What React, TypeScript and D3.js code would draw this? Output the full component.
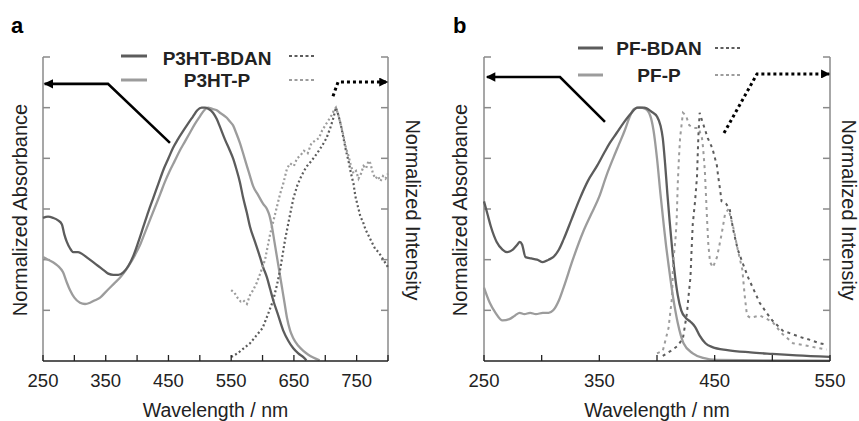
import React from "react";
import * as d3 from "d3";

// ---------- DATA ----------
// Panel a: P3HT (wavelength nm, normalized value)
const p3htBdanAbs: [number, number][] = [
  [250, 0.565], [258, 0.57], [266, 0.565], [274, 0.555], [280, 0.54], [284, 0.5], [288, 0.47], [293, 0.445],
  [298, 0.43], [306, 0.43], [314, 0.42], [322, 0.405], [330, 0.39], [338, 0.375], [346, 0.36], [354, 0.345],
  [362, 0.34], [370, 0.34], [378, 0.35], [386, 0.375], [394, 0.415], [402, 0.47], [410, 0.53], [418, 0.59],
  [426, 0.645], [434, 0.7], [442, 0.755], [450, 0.8], [457, 0.84], [465, 0.875], [474, 0.91], [482, 0.94],
  [489, 0.965], [496, 0.99], [503, 1.0], [508, 1.0], [514, 0.995], [521, 0.98], [527, 0.955], [532, 0.925],
  [540, 0.875], [548, 0.83], [553, 0.8], [558, 0.76], [564, 0.705], [569, 0.645], [575, 0.585], [580, 0.53],
  [588, 0.47], [596, 0.41], [601, 0.37], [607, 0.33], [612, 0.285], [617, 0.24], [625, 0.18], [633, 0.12],
  [641, 0.08], [649, 0.05], [657, 0.03], [665, 0.015], [670, 0.003]
];
const p3htPAbs: [number, number][] = [
  [250, 0.41], [258, 0.4], [266, 0.39], [274, 0.375], [282, 0.35], [288, 0.31], [293, 0.28], [300, 0.25],
  [309, 0.23], [317, 0.225], [325, 0.23], [333, 0.24], [341, 0.25], [349, 0.27], [357, 0.29], [365, 0.31],
  [373, 0.33], [381, 0.355], [389, 0.385], [397, 0.42], [405, 0.46], [413, 0.51], [421, 0.56], [429, 0.61],
  [437, 0.66], [444, 0.705], [452, 0.75], [460, 0.79], [468, 0.83], [476, 0.865], [484, 0.9], [492, 0.935],
  [500, 0.965], [507, 0.99], [513, 1.0], [520, 0.995], [527, 0.99], [532, 0.98], [538, 0.97], [543, 0.96],
  [548, 0.945], [553, 0.93], [558, 0.9], [564, 0.86], [569, 0.82], [575, 0.77], [580, 0.73], [585, 0.69],
  [593, 0.655], [601, 0.62], [607, 0.6], [611, 0.575], [615, 0.53], [619, 0.47], [623, 0.41], [627, 0.35],
  [631, 0.29], [635, 0.23], [639, 0.17], [644, 0.12], [649, 0.09], [657, 0.06], [665, 0.04], [673, 0.025],
  [680, 0.015], [691, 0.003]
];
const p3htBdanEm: [number, number][] = [
  [550, 0.016], [560, 0.03], [570, 0.05], [580, 0.07], [590, 0.1], [600, 0.13], [608, 0.18], [617, 0.24],
  [623, 0.3], [628, 0.36], [632, 0.42], [636, 0.48], [640, 0.53], [644, 0.58], [649, 0.64], [655, 0.69],
  [660, 0.72], [666, 0.75], [671, 0.77], [678, 0.79], [687, 0.82], [695, 0.85], [702, 0.88], [708, 0.92],
  [713, 0.96], [717, 1.0], [721, 0.97], [725, 0.93], [729, 0.88], [733, 0.83], [737, 0.79], [741, 0.74],
  [745, 0.7], [748, 0.65], [752, 0.61], [756, 0.57], [760, 0.55], [764, 0.52], [768, 0.5], [772, 0.48],
  [776, 0.46], [780, 0.44], [785, 0.43], [790, 0.41], [795, 0.39], [800, 0.37]
];
const p3htPEm: [number, number][] = [
  [550, 0.28], [555, 0.27], [560, 0.25], [565, 0.235], [569, 0.24], [575, 0.225], [580, 0.26], [585, 0.28],
  [591, 0.31], [597, 0.35], [604, 0.4], [608, 0.45], [612, 0.5], [617, 0.55], [622, 0.6], [628, 0.66],
  [633, 0.7], [639, 0.76], [644, 0.78], [650, 0.77], [655, 0.8], [660, 0.81], [666, 0.83], [672, 0.82],
  [678, 0.86], [684, 0.87], [690, 0.88], [695, 0.91], [700, 0.93], [705, 0.95], [710, 0.97], [714, 0.99],
  [717, 1.0], [721, 0.97], [725, 0.93], [729, 0.89], [733, 0.84], [737, 0.81], [741, 0.77], [745, 0.74],
  [749, 0.75], [753, 0.72], [757, 0.74], [761, 0.77], [765, 0.76], [769, 0.79], [772, 0.78], [776, 0.74],
  [780, 0.72], [784, 0.73], [788, 0.71], [792, 0.73], [796, 0.72], [800, 0.74]
];

// Panel b: PF
const pfBdanAbs: [number, number][] = [
  [250, 0.63], [253, 0.58], [256, 0.53], [261, 0.47], [266, 0.44], [270, 0.43], [275, 0.44], [279, 0.46],
  [281, 0.47], [283, 0.46], [286, 0.41], [291, 0.405], [296, 0.4], [301, 0.39], [306, 0.4], [310, 0.41],
  [315, 0.44], [319, 0.48], [326, 0.56], [333, 0.64], [340, 0.71], [348, 0.77], [354, 0.82], [359, 0.86],
  [365, 0.9], [371, 0.94], [377, 0.975], [383, 1.0], [389, 1.0], [395, 0.985], [400, 0.965], [403, 0.93],
  [405, 0.88], [407, 0.78], [409, 0.66], [411, 0.55], [413, 0.45], [415, 0.36], [418, 0.26], [421, 0.2],
  [425, 0.17], [429, 0.155], [433, 0.135], [437, 0.1], [442, 0.07], [448, 0.055], [461, 0.043], [481, 0.034],
  [500, 0.028], [521, 0.022], [550, 0.016]
];
const pfPAbs: [number, number][] = [
  [250, 0.29], [255, 0.23], [260, 0.19], [266, 0.16], [272, 0.165], [277, 0.18], [281, 0.19], [285, 0.185],
  [290, 0.19], [295, 0.185], [301, 0.19], [306, 0.19], [310, 0.2], [315, 0.24], [319, 0.29], [327, 0.4],
  [336, 0.51], [343, 0.58], [350, 0.65], [356, 0.73], [362, 0.8], [367, 0.855], [372, 0.91], [376, 0.96],
  [380, 0.995], [385, 1.0], [390, 0.995], [394, 0.97], [397, 0.91], [400, 0.8], [403, 0.66], [406, 0.53],
  [408, 0.45], [410, 0.38], [414, 0.25], [418, 0.15], [423, 0.07], [431, 0.03], [440, 0.012], [452, 0.004],
  [500, 0.002], [550, 0.001]
];
const pfBdanEm: [number, number][] = [
  [405, 0.02], [412, 0.04], [418, 0.06], [422.5, 0.09], [426, 0.19], [427, 0.24], [429, 0.33], [430, 0.44],
  [431, 0.54], [433, 0.63], [434.7, 0.73], [435.5, 0.84], [436, 0.9], [437, 0.98], [439, 0.95], [444, 0.88],
  [448, 0.84], [452, 0.77], [453, 0.73], [454.6, 0.68], [456, 0.63], [460, 0.62], [463, 0.6], [466, 0.52],
  [470, 0.44], [474, 0.39], [479, 0.33], [483, 0.29], [489, 0.23], [495, 0.19], [500, 0.16], [509, 0.12],
  [515, 0.11], [524, 0.095], [533, 0.083], [541, 0.07], [547, 0.065]
];
const pfPEm: [number, number][] = [
  [400, 0.03], [405, 0.04], [410, 0.13], [413, 0.25], [414, 0.39], [416, 0.48], [417, 0.55], [418, 0.7],
  [419, 0.8], [420, 0.88], [422.5, 0.98], [425, 0.97], [428, 0.93], [432, 0.92], [436, 0.92], [439, 0.88],
  [440, 0.84], [441.5, 0.75], [442.5, 0.65], [443.5, 0.55], [444.5, 0.46], [446, 0.39], [448.5, 0.37],
  [452, 0.41], [456, 0.5], [459, 0.58], [462, 0.6], [466, 0.53], [470, 0.44], [474, 0.36], [476, 0.26],
  [478, 0.18], [481, 0.17], [489, 0.18], [500, 0.155], [508, 0.11], [518, 0.07], [527, 0.063], [541, 0.05],
  [547, 0.045]
];

// Axis ticks / labels
const xTicksA = [250, 300, 350, 400, 450, 500, 550, 600, 650, 700, 750, 800];
const xLabelsA = [250, 350, 450, 550, 650, 750];
const xTicksB = [250, 300, 350, 400, 450, 500, 550];
const xLabelsB = [250, 350, 450, 550];
const yTicks = [0.2, 0.4, 0.6, 0.8, 1.0, 1.2];

// Annotation arrows (data coordinates)
const arrowAbsA: [number, number][] = [[353.6, 1.094], [452.4, 0.861]];
const arrowAbsATip: [number, number] = [252.5, 1.094];
const arrowEmA: [number, number][] = [[712.3, 1.045], [720.3, 1.101]];
const arrowEmATip: [number, number] = [799, 1.101];
const arrowAbsB: [number, number][] = [[315.9, 1.121], [354.9, 0.944]];
const arrowAbsBTip: [number, number] = [252.5, 1.121];
const arrowEmB: [number, number][] = [[458.1, 0.9], [486.7, 1.133]];
const arrowEmBTip: [number, number] = [549.3, 1.133];

const DARK = "#5c5c5c";
const LIGHT = "#9c9c9c";
const FONT = "'Liberation Sans', Arial, sans-serif";

const yScale = d3.scaleLinear().domain([0, 1.2]).range([361, 57]);

type PanelProps = {
  x0: number; x1: number; dom: [number, number];
  ticks: number[]; labels: number[];
  absDark: [number, number][]; absLight: [number, number][];
  emDark: [number, number][]; emLight: [number, number][];
  emDash: string; emWidth: number;
  letter: string; letterX: number;
  legendCenter: number; legendNames: [string, string];
  solidX: [number, number]; dotX: [number, number]; legendY: [number, number]; legendBase: [number, number];
  arrAbs: [number, number][]; arrAbsTip: [number, number];
  arrEm: [number, number][]; arrEmTip: [number, number];
  leftTitleX: number; rightTitleX: number;
  id: string;
};

function Panel(p: PanelProps) {
  const x = d3.scaleLinear().domain(p.dom).range([p.x0, p.x1]);
  const smooth = d3.line<[number, number]>().x(d => x(d[0])).y(d => yScale(d[1])).curve(d3.curveMonotoneX);
  const line = d3.line<[number, number]>().x(d => x(d[0])).y(d => yScale(d[1]));
  const y0 = yScale(0);
  const yTop = yScale(1.2);
  const yMid = (yTop + y0) / 2 + 1;
  const absPts = [...p.arrAbs].reverse().concat([p.arrAbsTip]) as [number, number][];
  const emPts = [...p.arrEm, p.arrEmTip] as [number, number][];
  return (
    <g>
      <defs>
        <marker id={`ah-${p.id}`} viewBox="0 0 10 10" refX="9" refY="5" markerWidth="4" markerHeight="3.6" orient="auto" markerUnits="strokeWidth">
          <path d="M0,0 L10,5 L0,10 z" fill="#000" />
        </marker>
        <marker id={`ahd-${p.id}`} viewBox="0 0 10 10" refX="9" refY="5" markerWidth="3.2" markerHeight="3" orient="auto" markerUnits="strokeWidth">
          <path d="M0,0 L10,5 L0,10 z" fill="#000" />
        </marker>
      </defs>
      <text x={p.letterX} y={33} fontFamily={FONT} fontWeight="bold" fontSize={22}>{p.letter}</text>
      <line x1={p.x0} x2={p.x0} y1={yTop} y2={y0} stroke="#8a8a8a" strokeWidth={1.5} />
      <line x1={p.x1} x2={p.x1} y1={yTop} y2={y0} stroke="#8a8a8a" strokeWidth={1.5} />
      {yTicks.map(t => (
        <g key={t}>
          <line x1={p.x0} x2={p.x0 + 7} y1={yScale(t)} y2={yScale(t)} stroke="#8a8a8a" strokeWidth={1.5} />
          <line x1={p.x1} x2={p.x1 - 7} y1={yScale(t)} y2={yScale(t)} stroke="#8a8a8a" strokeWidth={1.5} />
        </g>
      ))}
      <path d={smooth(p.absLight) || ""} fill="none" stroke={LIGHT} strokeWidth={2.3} strokeLinejoin="round" />
      <path d={smooth(p.absDark) || ""} fill="none" stroke={DARK} strokeWidth={2.3} strokeLinejoin="round" />
      <path d={line(p.emLight) || ""} fill="none" stroke={LIGHT} strokeWidth={p.emWidth} strokeDasharray={p.emDash} />
      <path d={line(p.emDark) || ""} fill="none" stroke={DARK} strokeWidth={p.emWidth} strokeDasharray={p.emDash} />
      <line x1={p.x0} x2={p.x1} y1={y0} y2={y0} stroke="#222" strokeWidth={1.6} />
      {p.ticks.map(t => (
        <line key={t} x1={x(t)} x2={x(t)} y1={y0} y2={y0 - 6} stroke="#222" strokeWidth={1.3} />
      ))}
      {p.labels.map(t => (
        <text key={t} x={x(t)} y={387} textAnchor="middle" fontFamily={FONT} fontSize={18.5} fill="#222">{t}</text>
      ))}
      <text x={(p.x0 + p.x1) / 2} y={417} textAnchor="middle" fontFamily={FONT} fontSize={19.5} fill="#222">Wavelength / nm</text>
      <text transform={`translate(${p.leftTitleX},${yMid}) rotate(-90)`} textAnchor="middle" dominantBaseline="central" fontFamily={FONT} fontSize={20} fill="#222">Normalized Absorbance</text>
      <text transform={`translate(${p.rightTitleX},${yMid}) rotate(90)`} textAnchor="middle" dominantBaseline="central" fontFamily={FONT} fontSize={20} fill="#222">Normalized Intensity</text>
      <polyline points={absPts.map(d => `${x(d[0])},${yScale(d[1])}`).join(" ")} fill="none" stroke="#000" strokeWidth={2.6} markerEnd={`url(#ah-${p.id})`} />
      <polyline points={emPts.map(d => `${x(d[0])},${yScale(d[1])}`).join(" ")} fill="none" stroke="#000" strokeWidth={3} strokeDasharray="3 3" markerEnd={`url(#ahd-${p.id})`} />
      {[0, 1].map(i => (
        <g key={i}>
          <line x1={p.solidX[0]} x2={p.solidX[1]} y1={p.legendY[i]} y2={p.legendY[i]} stroke={i === 0 ? DARK : LIGHT} strokeWidth={3} />
          <line x1={p.dotX[0]} x2={p.dotX[1]} y1={p.legendY[i]} y2={p.legendY[i]} stroke={i === 0 ? DARK : LIGHT} strokeWidth={2} strokeDasharray="3 2.5" />
          <text x={p.legendCenter} y={p.legendBase[i]} textAnchor="middle" fontFamily={FONT} fontWeight="bold" fontSize={19} fill="#222">{p.legendNames[i]}</text>
        </g>
      ))}
    </g>
  );
}

export default function App() {
  return (
    <svg width={859} height={421} style={{ position: "absolute", left: 0, top: 0, background: "#fff" }}>
      <rect width={859} height={421} fill="#fff" />
      <Panel id="a" x0={43} x1={388} dom={[250, 800]} ticks={xTicksA} labels={xLabelsA}
        absDark={p3htBdanAbs} absLight={p3htPAbs} emDark={p3htBdanEm} emLight={p3htPEm}
        emDash="2 2.5" emWidth={2.2}
        letter="a" letterX={11}
        legendCenter={217} legendNames={["P3HT-BDAN", "P3HT-P"]}
        solidX={[121, 147]} dotX={[289, 315]} legendY={[56, 80]} legendBase={[65, 87]}
        arrAbs={arrowAbsA} arrAbsTip={arrowAbsATip} arrEm={arrowEmA} arrEmTip={arrowEmATip}
        leftTitleX={20} rightTitleX={413} />
      <Panel id="b" x0={484} x1={830} dom={[250, 550]} ticks={xTicksB} labels={xLabelsB}
        absDark={pfBdanAbs} absLight={pfPAbs} emDark={pfBdanEm} emLight={pfPEm}
        emDash="3 4" emWidth={2}
        letter="b" letterX={453}
        legendCenter={659} legendNames={["PF-BDAN", "PF-P"]}
        solidX={[578, 603]} dotX={[715, 742]} legendY={[48, 75]} legendBase={[55, 82]}
        arrAbs={arrowAbsB} arrAbsTip={arrowAbsBTip} arrEm={arrowEmB} arrEmTip={arrowEmBTip}
        leftTitleX={460} rightTitleX={849} />
    </svg>
  );
}
